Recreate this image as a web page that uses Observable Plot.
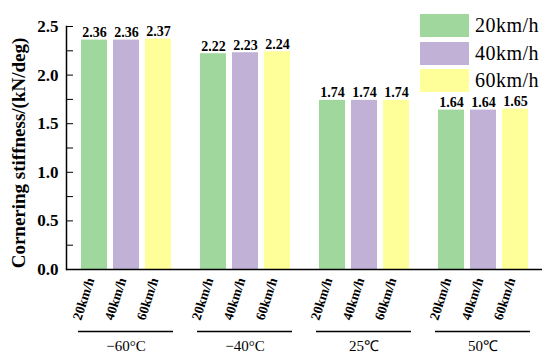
<!DOCTYPE html>
<html><head><meta charset="utf-8">
<script src="https://cdn.jsdelivr.net/npm/d3@7"></script>
<script src="https://cdn.jsdelivr.net/npm/@observablehq/plot@0.6"></script>
<style>
body{margin:0;background:#fff;}
#chart{position:relative;width:550px;height:361px;}
#legend{position:absolute;left:420px;top:12px;font-family:"Liberation Serif",serif;font-size:20px;letter-spacing:0.5px;color:#000;}
#legend .row{display:flex;align-items:center;height:27.5px;}
#legend .sw{width:49px;height:23px;margin-right:6px;}
</style></head><body><div id="chart"></div>
<script>
const temperatures = ["−60°C", "−40°C", "25℃", "50℃"];
const speeds = ["20km/h", "40km/h", "60km/h"];
const v20 = [2.36, 2.22, 1.74, 1.64];
const v40 = [2.36, 2.23, 1.74, 1.64];
const v60 = [2.37, 2.24, 1.74, 1.65];
const colors = ["#9fd79c", "#c2b1d7", "#ffff99"];
const yTicks = [0, 0.25, 0.5, 0.75, 1, 1.25, 1.5, 1.75, 2, 2.25, 2.5];
const yTitle = "Cornering stiffness/(kN/deg)";

const series = [v20, v40, v60];
const data = [];
temperatures.forEach((t, i) => speeds.forEach((s, j) => data.push({temp: t, speed: s, value: series[j][i]})));

const plot = Plot.plot({
  width: 550, height: 361,
  marginLeft: 66, marginRight: 8, marginTop: 26, marginBottom: 92,
  style: {fontFamily: "Liberation Serif", background: "white", color: "black"},
  fx: {domain: temperatures, padding: 0, axis: null},
  x: {domain: speeds, paddingInner: 0.1875, paddingOuter: 0.453, axis: null},
  y: {domain: [0, 2.5], axis: null},
  color: {domain: speeds, range: colors},
  marks: [
    Plot.barY(data, {fx: "temp", x: "speed", y: "value", fill: "speed"}),
    Plot.text(data, {fx: "temp", x: "speed", y: "value", text: d => d.value.toFixed(2), lineAnchor: "bottom", dy: -3, fontWeight: "bold", fontSize: 14}),
    Plot.ruleY([0], {strokeWidth: 1.5}),
    Plot.frame({anchor: "left", facetAnchor: "left", strokeWidth: 1.5}),
    Plot.axisY({ticks: yTicks, tickSize: -7, tickPadding: 15, tickFormat: d => (d * 2) % 1 === 0 ? d.toFixed(1) : "", fontSize: 17, fontWeight: "bold", label: null}),
    Plot.text([yTitle], {fx: () => temperatures[0], text: d => d, frameAnchor: "left", textAnchor: "middle", rotate: -90, dx: -48, dy: 5, fontSize: 19, fontWeight: "bold", letterSpacing: 0.5}),
    Plot.text(data, {fx: "temp", x: "speed", text: "speed", frameAnchor: "bottom", dy: 10, rotate: -72, textAnchor: "end", fontWeight: "bold", fontSize: 13.5}),
    Plot.ruleY([0], {dy: 62, insetLeft: 12, insetRight: 12, strokeWidth: 1.5}),
    Plot.text(temperatures, {fx: d => d, text: d => d, frameAnchor: "bottom", dy: 81, fontSize: 15})
  ]
});
const chart = document.getElementById("chart");
chart.appendChild(plot);
const legend = document.createElement("div");
legend.id = "legend";
speeds.forEach((s, j) => {
  const row = document.createElement("div");
  row.className = "row";
  const sw = document.createElement("div");
  sw.className = "sw";
  sw.style.background = colors[j];
  const lab = document.createElement("span");
  lab.textContent = s;
  row.appendChild(sw); row.appendChild(lab);
  legend.appendChild(row);
});
chart.appendChild(legend);
</script></body></html>
